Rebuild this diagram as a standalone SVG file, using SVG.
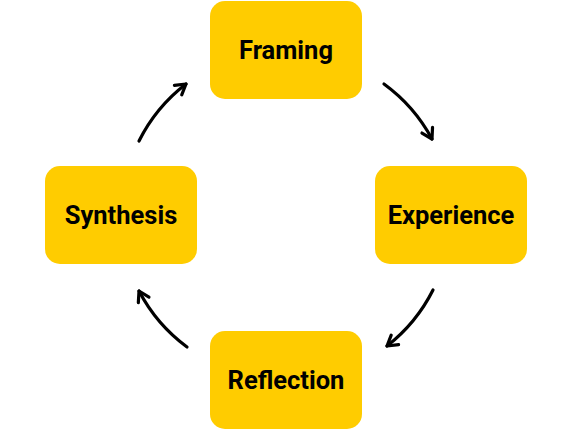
<svg xmlns="http://www.w3.org/2000/svg" width="572" height="431" viewBox="0 0 572 431">
<style>
.box{fill:#FFCC00;}
.lbl{font-family:Roboto,"Liberation Sans",sans-serif;font-weight:bold;font-size:25.5px;fill:#000;text-anchor:middle;}
.arc{fill:none;stroke:#000;stroke-width:3.2;stroke-linecap:round;marker-end:url(#ah);}
</style>
<defs>
<marker id="ah" viewBox="0 0 16 16" refX="12.5" refY="8" markerWidth="16" markerHeight="16" markerUnits="userSpaceOnUse" orient="auto">
<polyline points="2.5,2 12.5,8 2.5,14" fill="none" stroke="#000" stroke-width="3.2" stroke-linecap="round" stroke-linejoin="round"/>
</marker>
</defs>
<rect width="572" height="431" fill="#fff"/>
<g id="connectors">
<path class="arc" d="M384,84 A165,165 0 0 1 432,139"/>
<path class="arc" d="M433,290 A165,165 0 0 1 387,346"/>
<path class="arc" d="M187,347 A165,165 0 0 1 139,291"/>
<path class="arc" d="M139,141 A165,165 0 0 1 186,84"/>
</g>
<g id="framing"><rect class="box" x="210" y="1" width="152" height="98" rx="15"/><text class="lbl" x="286" y="58.5">Framing</text></g>
<g id="experience"><rect class="box" x="375" y="166" width="152" height="98" rx="15"/><text class="lbl" x="451" y="223.5">Experience</text></g>
<g id="reflection"><rect class="box" x="210" y="331" width="152" height="98" rx="15"/><text class="lbl" x="286" y="388.5">Reflection</text></g>
<g id="synthesis"><rect class="box" x="45" y="166" width="152" height="98" rx="15"/><text class="lbl" x="121" y="223.5">Synthesis</text></g>
</svg>
